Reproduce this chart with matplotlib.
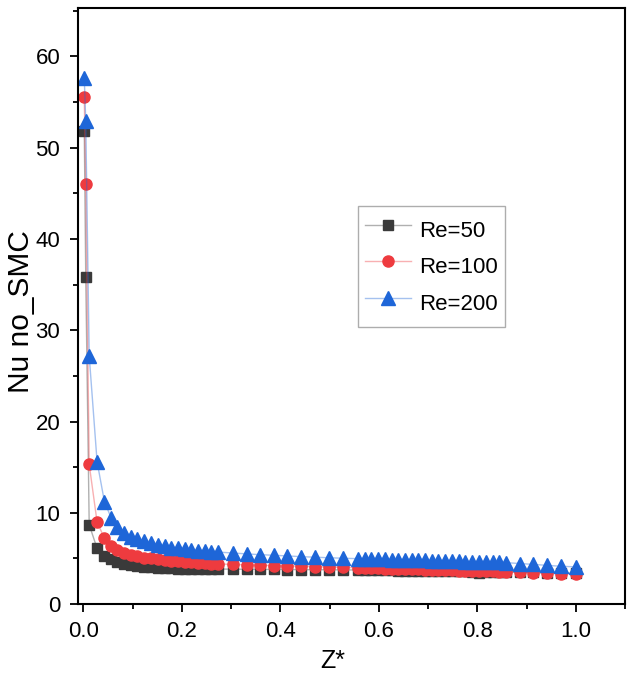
# Nu (no SMC) along the channel for three Reynolds numbers
import numpy as np
import matplotlib
matplotlib.use('Agg')
import matplotlib.pyplot as plt
from matplotlib.ticker import MultipleLocator, FormatStrFormatter
from matplotlib.colors import to_rgba

plt.rcParams['font.family'] = ['Liberation Sans', 'DejaVu Sans']

# axial position Z*
z_star = [0.002, 0.005, 0.012, 0.028, 0.043, 0.057, 0.069,
          0.083, 0.096, 0.110, 0.124, 0.137, 0.151, 0.165, 0.178, 0.192,
          0.206, 0.219, 0.233, 0.247, 0.260, 0.274,
          0.304, 0.332, 0.359, 0.387, 0.414, 0.443, 0.470, 0.499, 0.527, 0.557,
          0.571, 0.585, 0.598, 0.612, 0.626, 0.639, 0.653, 0.667, 0.680, 0.694,
          0.708, 0.721, 0.735, 0.749, 0.762, 0.776, 0.790, 0.803, 0.817, 0.831,
          0.845, 0.859,
          0.886, 0.914, 0.941, 0.969, 1.000]

nu_re50 = [51.8, 35.8, 8.7, 6.1, 5.3, 4.9, 4.6,
           4.45, 4.3, 4.2, 4.1, 4.05, 4.0, 3.95, 3.92, 3.9,
           3.88, 3.87, 3.86, 3.85, 3.85, 3.84,
           3.83, 3.82, 3.81, 3.8, 3.79, 3.78, 3.77, 3.76, 3.75, 3.74,
           3.73, 3.72, 3.71, 3.7, 3.69, 3.68, 3.67, 3.66, 3.65, 3.64,
           3.63, 3.62, 3.61, 3.6, 3.59, 3.58, 3.57, 3.4, 3.55, 3.54,
           3.53, 3.52,
           3.5, 3.47, 3.44, 3.41, 3.38]

nu_re100 = [55.5, 46.0, 15.3, 9.0, 7.2, 6.4, 5.9,
            5.6, 5.4, 5.25, 5.1, 5.0, 4.9, 4.8, 4.75, 4.7,
            4.65, 4.6, 4.55, 4.5, 4.45, 4.4,
            4.35, 4.3, 4.26, 4.22, 4.18, 4.14, 4.1, 4.06, 4.02, 3.98,
            3.96, 3.94, 3.92, 3.9, 3.88, 3.86, 3.84, 3.82, 3.8, 3.78,
            3.76, 3.74, 3.72, 3.7, 3.68, 3.66, 3.64, 3.62, 3.6, 3.58,
            3.56, 3.54,
            3.5, 3.45, 3.4, 3.35, 3.3]

nu_re200 = [57.6, 52.9, 27.2, 15.6, 11.2, 9.4, 8.4,
            7.8, 7.4, 7.1, 6.9, 6.7, 6.5, 6.35, 6.2, 6.1,
            6.0, 5.9, 5.85, 5.8, 5.75, 5.7,
            5.6, 5.5, 5.42, 5.35, 5.28, 5.2, 5.14, 5.08, 5.03, 4.98,
            4.96, 4.94, 4.92, 4.9, 4.88, 4.86, 4.84, 4.82, 4.8, 4.78,
            4.76, 4.74, 4.72, 4.7, 4.68, 4.66, 4.64, 4.62, 4.6, 4.58,
            4.56, 4.54,
            4.45, 4.35, 4.25, 4.15, 4.08]

labels = ['Re=50', 'Re=100', 'Re=200']
colors = ['#3a3a3a', '#ee3b3f', '#1e66d8']
markers = ['s', 'o', '^']
sizes = [7, 8, 9.5]

fig = plt.figure(figsize=(6.32, 6.96), dpi=100)
ax = fig.add_axes([0.124, 0.132, 0.865, 0.8565])

for y, lab, c, m, s in zip([nu_re50, nu_re100, nu_re200], labels, colors, markers, sizes):
    # faint connecting line, solid markers
    ax.plot(z_star, y, color=to_rgba(c, 0.4), lw=1, marker=m, ms=s,
            mfc=c, mec=c, label=lab)

ax.set_xlim(-0.01, 1.10)
ax.set_ylim(0, 65.3)
ax.xaxis.set_major_locator(MultipleLocator(0.2))
ax.xaxis.set_minor_locator(MultipleLocator(0.1))
ax.yaxis.set_major_locator(MultipleLocator(10))
ax.yaxis.set_minor_locator(MultipleLocator(5))
ax.xaxis.set_major_formatter(FormatStrFormatter('%.1f'))
ax.tick_params(which='major', direction='out', length=6, width=1.3, labelsize=16,
               top=False, right=False)
ax.tick_params(axis='x', which='major', pad=6)
ax.tick_params(axis='y', which='major', pad=7)
ax.tick_params(which='minor', direction='out', length=3.5, width=1.3,
               top=False, right=False)
for sp in ax.spines.values():
    sp.set_linewidth(1.5)

ax.set_xlabel('Z*', fontsize=18)
ax.xaxis.set_label_coords(0.466, -0.075)
ax.set_ylabel('Nu no_SMC', fontsize=21.5)
ax.yaxis.set_label_coords(-0.08, 0.49)

leg = ax.legend(loc='upper left', bbox_to_anchor=(358 / 632, 1 - 206 / 696),
                bbox_transform=fig.transFigure, fontsize=16, fancybox=False,
                edgecolor='#999999', handlelength=2.1, handleheight=2.0,
                borderpad=0.3, labelspacing=0.1, handletextpad=0.35,
                borderaxespad=0)
leg.get_frame().set_linewidth(1.0)

fig.savefig('out.png', dpi=100)
